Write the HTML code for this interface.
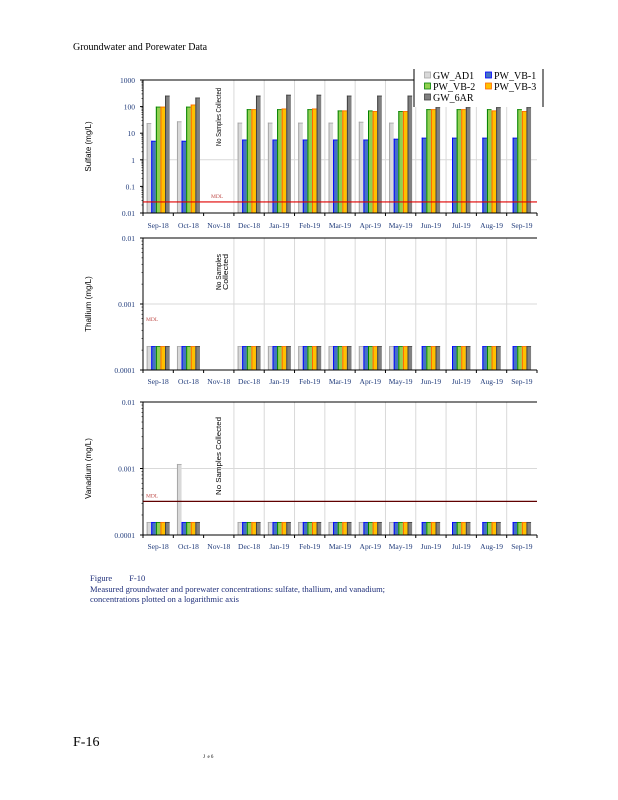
<!DOCTYPE html>
<html><head><meta charset="utf-8"><style>
body{margin:0;background:#fff;width:618px;height:800px;position:relative;overflow:hidden;font-family:"Liberation Serif",serif}
.t{position:absolute;white-space:nowrap}
</style></head><body>
<div class="t" style="left:73px;top:42px;font-size:10px">Groundwater and Porewater Data</div>
<svg id="c" width="618" height="800" style="position:absolute;left:0;top:0"></svg>
<div class="t" style="left:90px;top:573px;font-size:8.5px;color:#1f2f7a;line-height:10.5px">Figure&nbsp;&nbsp;&nbsp;&nbsp;&nbsp;&nbsp;&nbsp;&nbsp;F-10<br>Measured groundwater and porewater concentrations: sulfate, thallium, and vanadium;<br>concentrations plotted on a logarithmic axis</div>
<div class="t" style="left:73px;top:735px;font-size:14px">F-16</div>
<div class="t" style="left:203px;top:755px;font-size:5px">J &nbsp;e 6</div>
<script>
const categories=["Sep-18","Oct-18","Nov-18","Dec-18","Jan-19","Feb-19","Mar-19","Apr-19","May-19","Jun-19","Jul-19","Aug-19","Sep-19"];
const seriesNames=["GW_AD1","PW_VB-1","PW_VB-2","PW_VB-3","GW_6AR"];
const sulfateAD1=[24,28,null,25,25,25,25,27,25,null,null,null,null];
const sulfateVB1=[5.2,5.2,null,5.8,5.8,5.8,5.8,5.8,6.2,6.8,6.8,6.8,6.8];
const sulfateVB2=[100,100,null,80,80,80,72,72,68,80,80,80,80];
const sulfateVB3=[100,120,null,80,85,85,72,68,68,80,80,72,68];
const sulfate6AR=[260,220,null,260,280,280,260,260,260,95,95,95,95];
const thalliumAD1=[0.00023,0.00023,null,0.00023,0.00023,0.00023,0.00023,0.00023,0.00023,null,null,null,null];
const thalliumOther=[0.00023,0.00023,null,0.00023,0.00023,0.00023,0.00023,0.00023,0.00023,0.00023,0.00023,0.00023,0.00023];
const vanadiumAD1=[0.000157,0.00117,null,0.000157,0.000157,0.000157,0.000157,0.000157,0.000157,null,null,null,null];
const vanadiumOther=[0.000157,0.000157,null,0.000157,0.000157,0.000157,0.000157,0.000157,0.000157,0.000157,0.000157,0.000157,0.000157];
const sulfateTicks=["1000","100","10","1","0.1","0.01"];
const metalTicks=["0.01","0.001","0.0001"];
const sulfateMDL=0.026, thalliumMDL=0.00048, vanadiumMDL=0.00032;

const svg=document.getElementById('c');const NS="http://www.w3.org/2000/svg";
function el(t,a,p){const e=document.createElementNS(NS,t);for(const k in a)e.setAttribute(k,a[k]);(p||svg).appendChild(e);return e;}
const fills=["#d9d9d9","#4472c4","#92d050","#ffc000","#808080"];
const strokes=["#a6a6a6","#0000ff","#008000","#ff6600","#404040"];
const X0=143,X1=537,CW=(X1-X0)/categories.length,BW=4.6;
function xCat(i){return X0+i*CW;}
function chart(name,top,bottom,maxExp,minExp,series,ticks,mdl,mdlLine,labelY,title,noteLines,noteY,noteLen){
  const g=el('g',{});
  const y=v=>bottom-(Math.log10(v)-minExp)/(maxExp-minExp)*(bottom-top);
  for(let i=3;i<categories.length;i++){el('line',{x1:xCat(i),x2:xCat(i),y1:top,y2:bottom,stroke:'#d9d9d9','stroke-width':1},g);}
  for(let e=minExp+1;e<maxExp;e++){ if(name!=='sulfate-chart'||e===0) el('line',{x1:X0,x2:X1,y1:y(Math.pow(10,e)),y2:y(Math.pow(10,e)),stroke:'#d9d9d9'},g);}
  el('line',{x1:X0,x2:name==='sulfate-chart'?414:X1,y1:top,y2:top,stroke:'#000'},g);
  for(let i=0;i<categories.length;i++){
    const vals=series.map(s=>s[i]);const present=vals.map((v,k)=>k).filter(k=>vals[k]!=null);
    const start=xCat(i)+CW/2-present.length*BW/2;
    present.forEach((k,j)=>{const v=vals[k];const yy=y(v);
      const r=el('rect',{x:start+j*BW,y:yy,width:BW,height:bottom-yy,fill:fills[k]},g);
      
      
      el('line',{x1:start+j*BW+0.5,x2:start+j*BW+0.5,y1:yy,y2:bottom,stroke:strokes[k]},g);
      el('line',{x1:start+j*BW,x2:start+(j+1)*BW,y1:yy+0.5,y2:yy+0.5,stroke:strokes[k],'stroke-width':0.8},g);
    });
  }
  el('line',{x1:X0,x2:X0,y1:top,y2:bottom,stroke:'#000'},g);
  el('line',{x1:X0,x2:X1,y1:bottom,y2:bottom,stroke:'#000'},g);
  for(let i=0;i<=categories.length;i++)el('line',{x1:xCat(i),x2:xCat(i),y1:bottom,y2:bottom+3,stroke:'#000'},g);
  ticks.forEach(t=>{const v=parseFloat(t);const yy=y(v);
    el('line',{x1:X0-3,x2:X0,y1:yy,y2:yy,stroke:'#000'},g);
    const tx=el('text',{x:X0-8,y:yy+3,'text-anchor':'end','font-size':7.5,fill:'#1f3a7a','font-family':'Liberation Serif'},g);tx.textContent=t;
    
    if(v>Math.pow(10,minExp))for(let m=2;m<10;m++){const yy2=y(v/10*m);el('line',{x1:X0-1.5,x2:X0,y1:yy2,y2:yy2,stroke:'#000','stroke-width':0.6},g);}
  });
  categories.forEach((c,i)=>{const tx=el('text',{x:xCat(i)+CW/2,y:labelY,'text-anchor':'middle','font-size':7.5,fill:'#1f3a7a','font-family':'Liberation Serif'},g);tx.textContent=c;
    });
  const yt=el('text',{transform:`translate(91,${(top+bottom)/2}) rotate(-90)`,'text-anchor':'middle','font-size':8,'font-family':'Liberation Sans'},g);yt.textContent=title;
  
  const my=y(mdl);
  if(mdlLine) el('line',{x1:X0,x2:X1,y1:my,y2:my,stroke:mdlLine,'stroke-width':1.2},g);
  const mt=el('text',{x:name==='sulfate-chart'?211:146,y:my-4,'font-size':5.5,fill:'#c0504d','font-family':'Liberation Serif'},g);mt.textContent='MDL';
  
  noteLines.forEach((n,k)=>{const t=el('text',{transform:`translate(${221+k*7},${noteY}) rotate(-90)`,'font-size':7,'font-family':'Liberation Sans',textLength:noteLen,lengthAdjust:'spacingAndGlyphs'},g);t.textContent=n;
    });
}
chart('sulfate-chart',80,213,3,-2,[sulfateAD1,sulfateVB1,sulfateVB2,sulfateVB3,sulfate6AR],sulfateTicks,sulfateMDL,'#e00000',228,'Sulfate (mg/L)',['No Samples Collected'],146,58);
chart('thallium-chart',238,370,-2,-4,[thalliumAD1,thalliumOther,thalliumOther,thalliumOther,thalliumOther],metalTicks,thalliumMDL,null,384,'Thallium (mg/L)',['No Samples','Collected'],290,36);
chart('vanadium-chart',402,535,-2,-4,[vanadiumAD1,vanadiumOther,vanadiumOther,vanadiumOther,vanadiumOther],metalTicks,vanadiumMDL,'#600000',549,'Vanadium (mg/L)',['No Samples Collected'],495,78);
const lg=el('g',{});
el('rect',{x:414,y:69,width:129,height:38,fill:'#fff'},lg);
el('line',{x1:414,x2:414,y1:69,y2:107,stroke:'#000'},lg);
el('line',{x1:543,x2:543,y1:69,y2:107,stroke:'#000'},lg);
const lpos=[[425,78],[486,78],[425,89],[486,89],[425,100]];
seriesNames.forEach((s,k)=>{const [lx,ly]=lpos[k];
  const r=el('rect',{x:lx-0.5,y:ly-6,width:6,height:6,fill:fills[k],stroke:strokes[k],'stroke-width':0.8},lg);
  
  const t=el('text',{x:lx+8,y:ly+1,'font-size':10,'font-family':'Liberation Serif'},lg);t.textContent=s;
  });
</script>
</body></html>
